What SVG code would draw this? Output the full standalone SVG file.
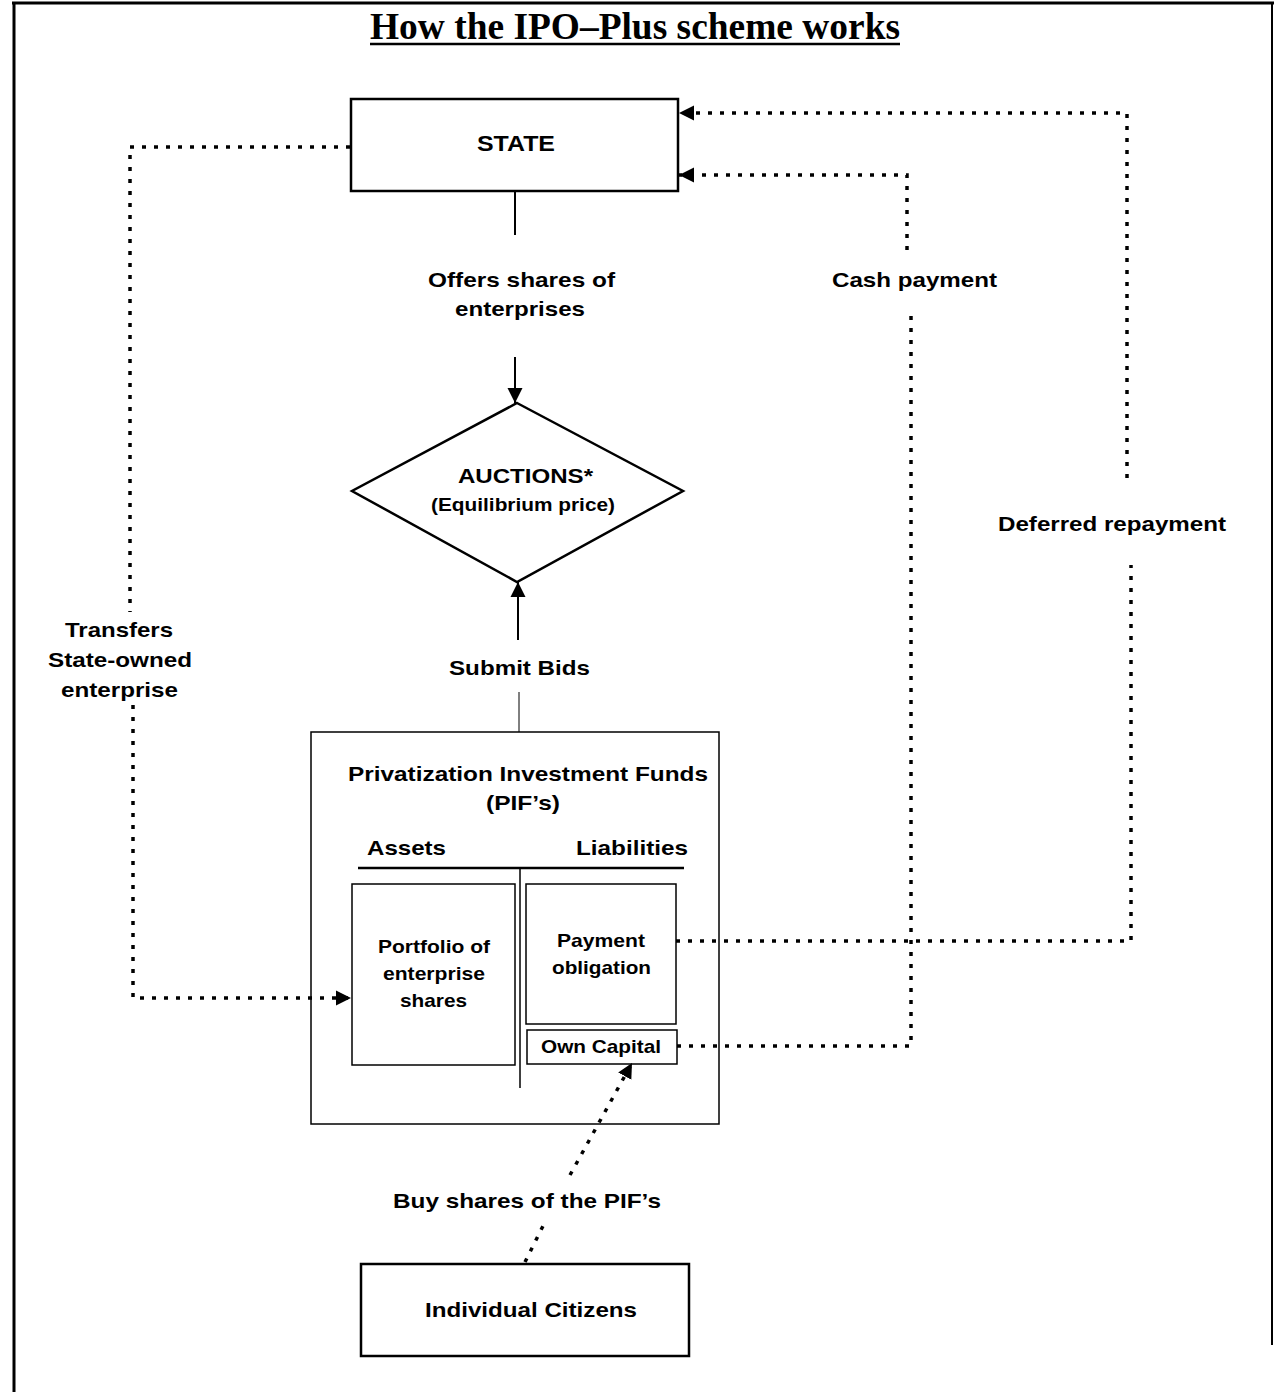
<svg xmlns="http://www.w3.org/2000/svg" width="1275" height="1392" viewBox="0 0 1275 1392">
<style>
.t{font-family:"Liberation Sans",Arial,sans-serif;font-weight:bold;fill:#000;}
.box{fill:none;stroke:#000;}
.dot{fill:none;stroke:#000;stroke-width:3.5;stroke-dasharray:4 8;}
.solid{fill:none;stroke:#000;stroke-width:2;}
</style>
<defs>
<marker id="ah" markerUnits="userSpaceOnUse" markerWidth="18" markerHeight="18" refX="15" refY="9" orient="auto">
<path d="M0,1.5 L15,9 L0,16.5 Z" fill="#000"/>
</marker>
</defs>
<rect width="1275" height="1392" fill="#fff"/>
<g id="frame" fill="none" stroke="#000">
<line x1="12" y1="3" x2="1274" y2="3" stroke-width="3"/>
<line x1="14" y1="2" x2="14" y2="1392" stroke-width="3"/>
<line x1="1272" y1="2" x2="1272" y2="1345" stroke-width="2"/>
</g>
<g id="title">
<text x="370" y="39" font-family="'Liberation Serif','Times New Roman',serif" font-weight="bold" font-size="38" textLength="530" lengthAdjust="spacingAndGlyphs">How the IPO–Plus scheme works</text>
<line x1="370" y1="44" x2="900" y2="44" stroke="#000" stroke-width="2.5"/>
</g>
<g id="connectors">
<line class="solid" x1="515" y1="191" x2="515" y2="235"/>
<line class="solid" x1="515" y1="357" x2="515" y2="403" marker-end="url(#ah)"/>
<line class="solid" x1="518" y1="640" x2="518" y2="582" marker-end="url(#ah)"/>
<line x1="519" y1="692" x2="519" y2="732" stroke="#000" stroke-width="1"/>
<path class="dot" d="M350,147 H130 V612"/>
<path class="dot" d="M133,705 V998 H351" marker-end="url(#ah)"/>
<path class="dot" d="M677,1046 H911 V315"/>
<path class="dot" d="M907,250 V175 H679" marker-end="url(#ah)"/>
<path class="dot" d="M676,941 H1131 V565"/>
<path class="dot" d="M1127,478 V113 H679" marker-end="url(#ah)"/>
<path class="dot" d="M525,1262 L545,1222"/>
<path class="dot" d="M570,1175 L632,1063" marker-end="url(#ah)"/>
</g>
<g id="state">
<rect class="box" x="351" y="99" width="327" height="92" stroke-width="2.5"/>
<text class="t" x="477" y="151" font-size="22" textLength="78" lengthAdjust="spacingAndGlyphs">STATE</text>
</g>
<g id="label-offers">
<text class="t" x="428" y="287" font-size="21" textLength="187" lengthAdjust="spacingAndGlyphs">Offers shares of</text>
<text class="t" x="455" y="316" font-size="21" textLength="130" lengthAdjust="spacingAndGlyphs">enterprises</text>
</g>
<g id="auctions">
<polygon class="box" points="517,403 683,491 517,582 352,491" stroke-width="2.5"/>
<text class="t" x="458" y="483" font-size="20" textLength="135" lengthAdjust="spacingAndGlyphs">AUCTIONS*</text>
<text class="t" x="431" y="511" font-size="19" textLength="184" lengthAdjust="spacingAndGlyphs">(Equilibrium price)</text>
</g>
<g id="label-submit">
<text class="t" x="449" y="675" font-size="21" textLength="141" lengthAdjust="spacingAndGlyphs">Submit Bids</text>
</g>
<g id="label-cash">
<text class="t" x="832" y="287" font-size="21" textLength="165" lengthAdjust="spacingAndGlyphs">Cash payment</text>
</g>
<g id="label-deferred">
<text class="t" x="998" y="531" font-size="21" textLength="228" lengthAdjust="spacingAndGlyphs">Deferred repayment</text>
</g>
<g id="label-transfers">
<text class="t" x="65" y="637" font-size="21" textLength="108" lengthAdjust="spacingAndGlyphs">Transfers</text>
<text class="t" x="48" y="667" font-size="21" textLength="144" lengthAdjust="spacingAndGlyphs">State-owned</text>
<text class="t" x="61" y="697" font-size="21" textLength="117" lengthAdjust="spacingAndGlyphs">enterprise</text>
</g>
<g id="pif">
<rect class="box" x="311" y="732" width="408" height="392" stroke-width="1.5"/>
<text class="t" x="348" y="781" font-size="21" textLength="360" lengthAdjust="spacingAndGlyphs">Privatization Investment Funds</text>
<text class="t" x="486" y="810" font-size="21" textLength="74" lengthAdjust="spacingAndGlyphs">(PIF’s)</text>
<text class="t" x="367" y="855" font-size="21" textLength="79" lengthAdjust="spacingAndGlyphs">Assets</text>
<text class="t" x="576" y="855" font-size="21" textLength="112" lengthAdjust="spacingAndGlyphs">Liabilities</text>
<line x1="358" y1="868" x2="684" y2="868" stroke="#000" stroke-width="2.5"/>
<line x1="520" y1="868" x2="520" y2="1088" stroke="#000" stroke-width="1.5"/>
</g>
<g id="portfolio">
<rect class="box" x="352" y="884" width="163" height="181" stroke-width="1.5"/>
<text class="t" x="378" y="953" font-size="19" textLength="112" lengthAdjust="spacingAndGlyphs">Portfolio of</text>
<text class="t" x="383" y="980" font-size="19" textLength="102" lengthAdjust="spacingAndGlyphs">enterprise</text>
<text class="t" x="400" y="1007" font-size="19" textLength="67" lengthAdjust="spacingAndGlyphs">shares</text>
</g>
<g id="payment-obligation">
<rect class="box" x="526" y="884" width="150" height="140" stroke-width="1.5"/>
<text class="t" x="557" y="947" font-size="19" textLength="88" lengthAdjust="spacingAndGlyphs">Payment</text>
<text class="t" x="552" y="974" font-size="19" textLength="99" lengthAdjust="spacingAndGlyphs">obligation</text>
</g>
<g id="own-capital">
<rect class="box" x="527" y="1030" width="150" height="34" stroke-width="1.5"/>
<text class="t" x="541" y="1053" font-size="19" textLength="120" lengthAdjust="spacingAndGlyphs">Own Capital</text>
</g>
<g id="label-buy">
<text class="t" x="393" y="1208" font-size="21" textLength="268" lengthAdjust="spacingAndGlyphs">Buy shares of the PIF’s</text>
</g>
<g id="citizens">
<rect class="box" x="361" y="1264" width="328" height="92" stroke-width="2.5"/>
<text class="t" x="425" y="1317" font-size="21" textLength="212" lengthAdjust="spacingAndGlyphs">Individual Citizens</text>
</g>
</svg>
